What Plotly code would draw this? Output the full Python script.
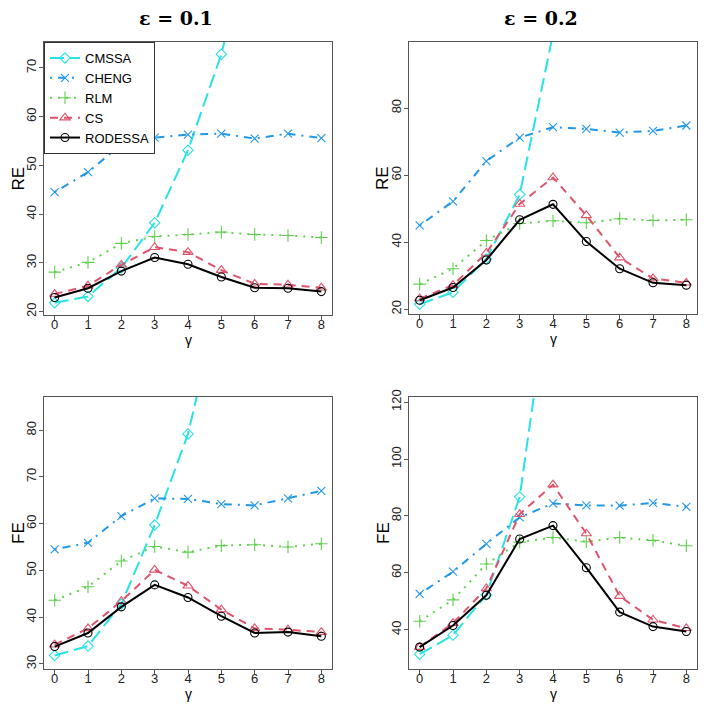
import plotly.graph_objects as go

gamma = [0, 1, 2, 3, 4, 5, 6, 7, 8]
methods = ["CMSSA", "CHENG", "RLM", "CS", "RODESSA"]

# RE, eps = 0.1
cmssa_re1 = [21.8, 23.1, 29.0, 38.2, 53.1, 72.8, 100.9, 140.0, 190.0]
cheng_re1 = [44.5, 48.6, 54.3, 55.7, 56.3, 56.5, 55.5, 56.5, 55.6]
rlm_re1 = [28.1, 30.1, 34.0, 35.4, 35.8, 36.3, 35.8, 35.6, 35.2]
cs_re1 = [23.6, 25.3, 29.6, 33.2, 32.2, 28.5, 25.7, 25.5, 24.9]
rodessa_re1 = [22.9, 24.8, 28.3, 31.1, 29.7, 27.1, 24.9, 24.8, 24.1]

# RE, eps = 0.2
cmssa_re2 = [21.5, 25.1, 35.0, 54.2, 102.0, 150.0, 210.0, 280.0, 360.0]
cheng_re2 = [45.0, 52.2, 64.2, 71.2, 74.3, 73.8, 72.7, 73.2, 74.8]
rlm_re2 = [27.5, 32.1, 40.5, 45.6, 46.4, 45.8, 47.0, 46.5, 46.7]
cs_re2 = [23.2, 27.2, 36.8, 51.4, 59.3, 48.0, 35.4, 29.2, 27.9]
rodessa_re2 = [22.7, 26.5, 34.7, 46.7, 51.3, 40.2, 32.1, 27.9, 27.2]

# FE, eps = 0.1
cmssa_fe1 = [31.8, 33.8, 42.8, 59.7, 79.2, 108.0, 140.0, 180.0, 230.0]
cheng_fe1 = [54.5, 55.9, 61.6, 65.4, 65.3, 64.2, 63.9, 65.4, 67.0]
rlm_fe1 = [43.6, 46.5, 52.0, 55.1, 53.9, 55.3, 55.5, 55.0, 55.7]
cs_fe1 = [34.1, 37.6, 43.4, 50.1, 46.7, 41.6, 37.6, 37.3, 36.8]
rodessa_fe1 = [33.7, 36.6, 42.2, 46.9, 44.2, 40.2, 36.6, 36.8, 35.9]

# FE, eps = 0.2
cmssa_fe2 = [31.4, 38.1, 52.3, 86.7, 170.0, 250.0, 340.0, 440.0, 560.0]
cheng_fe2 = [52.6, 60.4, 70.2, 79.5, 84.4, 83.7, 83.6, 84.6, 83.2]
rlm_fe2 = [43.0, 50.5, 63.1, 70.8, 72.4, 70.9, 72.4, 71.4, 69.5]
cs_fe2 = [33.9, 42.3, 54.5, 80.6, 91.0, 73.8, 51.8, 43.5, 40.5]
rodessa_fe2 = [33.9, 41.5, 52.1, 71.9, 76.6, 61.8, 46.2, 41.1, 39.4]

panels = [
    [cmssa_re1, cheng_re1, rlm_re1, cs_re1, rodessa_re1],
    [cmssa_re2, cheng_re2, rlm_re2, cs_re2, rodessa_re2],
    [cmssa_fe1, cheng_fe1, rlm_fe1, cs_fe1, rodessa_fe1],
    [cmssa_fe2, cheng_fe2, rlm_fe2, cs_fe2, rodessa_fe2],
]
ylabels = ["RE", "RE", "FE", "FE"]
titles = ["ε = 0.1", "ε = 0.2"]

colors = ["#28E2E5", "#2297E6", "#61D04F", "#DF536B", "#000000"]
dashes = ["14px,6px", "2px,6px,8px,6px", "2px,6px", "8px,6px", "solid"]
symbols = ["diamond-open", "x-thin-open", "cross-thin-open", "triangle-up-open", "circle-open"]
msizes = [8, 8, 9, 9, 8]

# the page body has an 8px margin, so the figure sits at (8, 8) in the window
OFF = 8
W, H = 707 - OFF, 706 - OFF


def px(x):
    return (x - OFF) / W


def py(y):
    return 1 - (y - OFF) / H


# panel boxes in window pixels: left, right, top, bottom
boxes = [(44, 332, 42, 315), (409, 697, 42, 314), (44, 332, 397, 669), (409, 697, 397, 669)]
yranges = [[19.3, 75.3], [18.6, 99.7], [28.9, 87.1], [26.2, 121.8]]
ydticks = [10, 20, 10, 20]

fig = go.Figure()

for p, series in enumerate(panels):
    ax = "" if p == 0 else str(p + 1)
    for i, m in enumerate(methods):
        fig.add_trace(go.Scatter(
            x=gamma, y=series[i], name=m,
            xaxis="x" + ax, yaxis="y" + ax,
            mode="lines+markers",
            showlegend=(p == 0),
            line=dict(color=colors[i], width=2, dash=dashes[i]),
            marker=dict(symbol=symbols[i], size=msizes[i], color=colors[i],
                        line=dict(color=colors[i], width=1.1)),
        ))

axis_font = dict(family="Liberation Sans, Arial", size=13, color="#222")
layout = dict(
    template="none",
    width=W, height=H,
    margin=dict(l=0, r=0, t=0, b=0, autoexpand=False),
    paper_bgcolor="white", plot_bgcolor="white",
    showlegend=True,
    legend=dict(x=px(44), y=py(42), xanchor="left", yanchor="top",
                bgcolor="white", bordercolor="#333", borderwidth=1,
                font=dict(family="Liberation Sans, Arial", size=13, color="black"),
                tracegroupgap=0),
    annotations=[],
)

for p, (l, r, t, b) in enumerate(boxes):
    ax = "" if p == 0 else str(p + 1)
    layout["xaxis" + ax] = dict(
        domain=[px(l), px(r)], anchor="y" + ax, range=[-0.32, 8.32],
        tickmode="array", tickvals=gamma, ticks="outside", ticklen=4,
        ticklabelstandoff=-7,
        tickcolor="#555", showgrid=False, zeroline=False, automargin=False,
        showline=True, mirror=True, linecolor="#555", linewidth=1,
        tickfont=axis_font,
    )
    layout["yaxis" + ax] = dict(
        domain=[py(b), py(t)], anchor="x" + ax, range=yranges[p],
        dtick=ydticks[p], tick0=0, ticks="outside", ticklen=4,
        ticklabelstandoff=-2,
        tickcolor="#555", showgrid=False, zeroline=False, automargin=False,
        showline=True, mirror=True, linecolor="#555", linewidth=1,
        tickangle=-90, tickfont=axis_font,
    )
    layout["annotations"].append(dict(
        text=ylabels[p], xref="paper", yref="paper",
        x=px(l - 26), y=py((t + b) / 2),
        xanchor="center", yanchor="middle", textangle=-90, showarrow=False,
        font=dict(family="Liberation Sans, Arial", size=17, color="black"),
    ))
    layout["annotations"].append(dict(
        text="γ", xref="paper", yref="paper",
        x=px((l + r) / 2), y=py(b + 25),
        xanchor="center", yanchor="middle", showarrow=False,
        font=dict(family="Liberation Sans, Arial", size=14, color="black"),
    ))

for j, t in enumerate(titles):
    layout["annotations"].append(dict(
        text="<b>" + t + "</b>", xref="paper", yref="paper",
        x=px([176, 541][j]), y=py(18),
        xanchor="center", yanchor="middle", showarrow=False, borderpad=0,
        font=dict(family="DejaVu Serif, Liberation Serif", size=19, color="black"),
    ))

fig.update_layout(**layout)
fig.write_html("out.html")
